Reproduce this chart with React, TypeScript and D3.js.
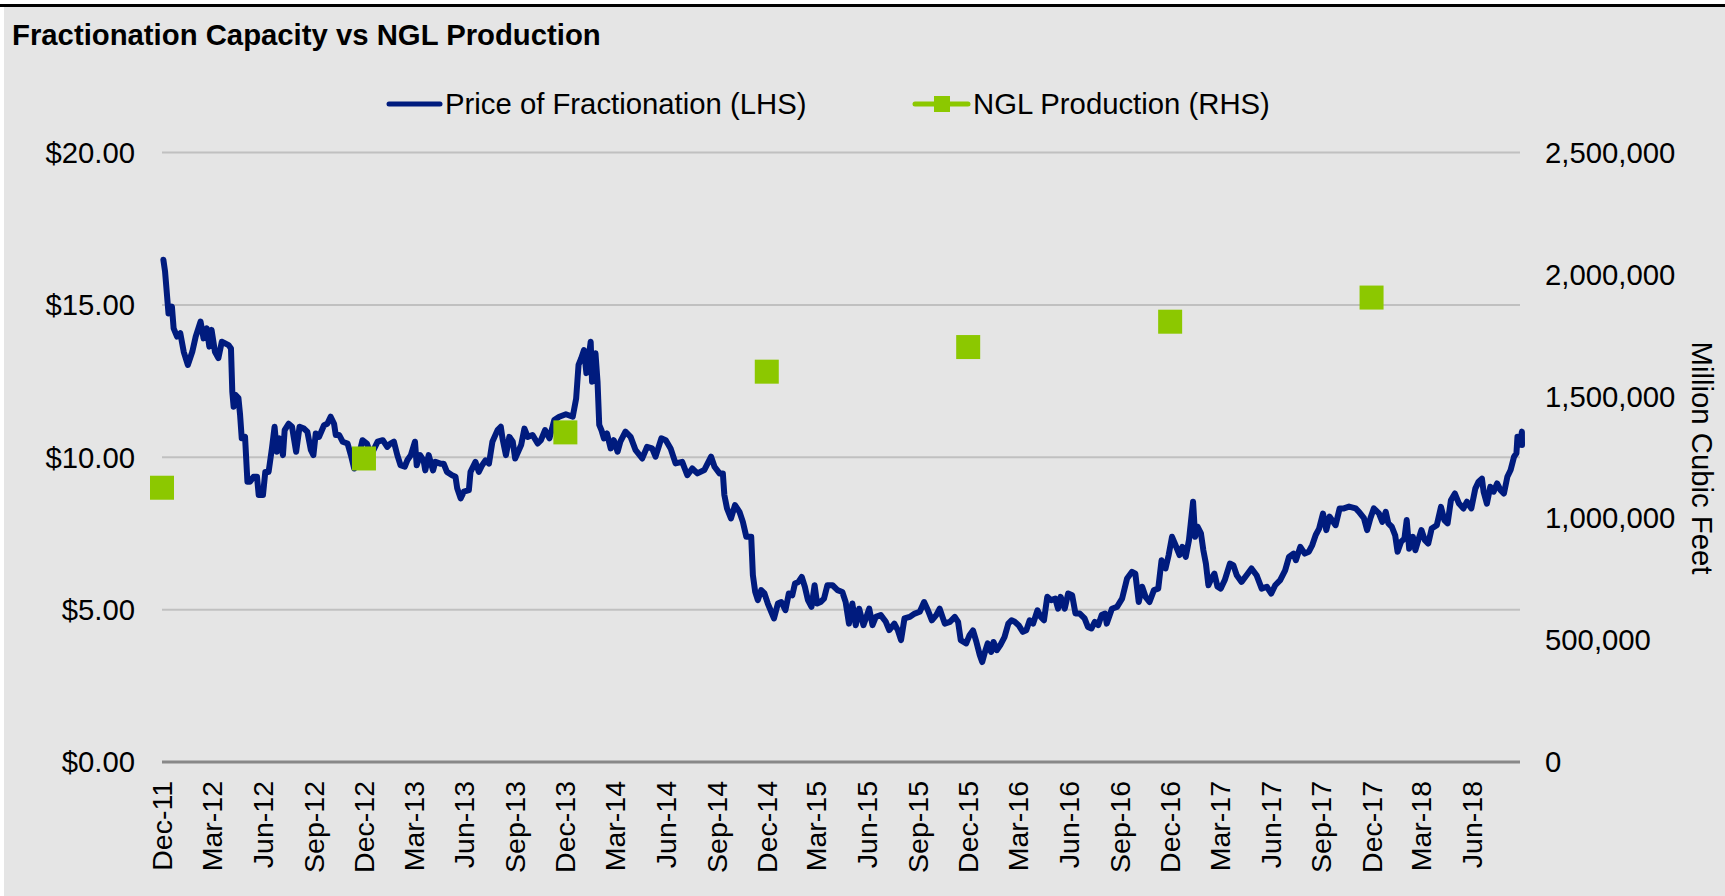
import React from 'react';
import * as d3 from 'd3';

// price of fractionation, [months after Dec-11, USD]
const priceSeries: [number, number][] = [
  [0.08, 16.48], [0.18, 16.09], [0.38, 14.72], [0.58, 14.94], [0.68, 14.23], [0.88, 13.96], [1.07, 14.07],
  [1.27, 13.46], [1.51, 13.03], [1.77, 13.46], [1.97, 13.96], [2.27, 14.45], [2.46, 13.9], [2.66, 14.23],
  [2.82, 13.63], [2.96, 14.18], [3.16, 13.46], [3.36, 13.25], [3.56, 13.79], [3.96, 13.68], [4.1, 13.57],
  [4.18, 12.15], [4.26, 11.66], [4.38, 12.04], [4.55, 11.94], [4.65, 11.39], [4.75, 10.62], [4.95, 10.67],
  [5.09, 9.2], [5.25, 9.2], [5.45, 9.36], [5.65, 9.36], [5.75, 8.76], [6.0, 8.76], [6.14, 9.52], [6.34, 9.52],
  [6.54, 10.29], [6.7, 11.0], [6.84, 10.18], [7.0, 10.62], [7.2, 10.07], [7.3, 10.89], [7.53, 11.1],
  [7.73, 11.0], [7.97, 10.18], [8.17, 11.0], [8.43, 10.94], [8.63, 10.83], [8.83, 10.24], [8.98, 10.07],
  [9.12, 10.78], [9.32, 10.67], [9.62, 11.05], [9.82, 11.1], [10.02, 11.33], [10.22, 11.1], [10.32, 10.73],
  [10.52, 10.73], [10.72, 10.51], [11.01, 10.45], [11.21, 10.07], [11.41, 9.63], [11.65, 9.96], [11.91, 10.56],
  [12.17, 10.45], [12.41, 10.07], [12.8, 10.51], [13.1, 10.56], [13.36, 10.34], [13.55, 10.45], [13.75, 10.51],
  [13.95, 10.07], [14.15, 9.74], [14.43, 9.69], [14.59, 9.9], [14.82, 10.07], [15.08, 10.51], [15.18, 9.74],
  [15.38, 10.07], [15.58, 9.9], [15.68, 9.57], [15.88, 10.07], [16.14, 9.57], [16.28, 9.85], [16.58, 9.79],
  [16.78, 9.79], [16.98, 9.52], [17.28, 9.41], [17.48, 9.36], [17.58, 8.98], [17.78, 8.65], [17.97, 8.87],
  [18.27, 8.92], [18.37, 9.52], [18.67, 9.85], [18.87, 9.52], [19.07, 9.74], [19.27, 9.9], [19.47, 9.79],
  [19.67, 10.51], [19.97, 10.89], [20.16, 11.0], [20.26, 10.62], [20.46, 10.07], [20.66, 10.67], [20.86, 10.51],
  [21.0, 9.96], [21.36, 10.4], [21.56, 10.94], [21.76, 10.67], [22.05, 10.73], [22.35, 10.45],
  [22.54, 10.56], [22.78, 10.89], [23.04, 10.62], [23.33, 11.22], [23.63, 11.33], [24.03, 11.41], [24.43, 11.33],
  [24.63, 11.93], [24.77, 13.03], [24.93, 13.25], [25.09, 13.52], [25.23, 12.76], [25.37, 13.3], [25.48, 13.79],
  [25.56, 12.48], [25.76, 13.41], [25.88, 12.48], [25.98, 11.06], [26.12, 10.89], [26.28, 10.62], [26.48, 10.78],
  [26.72, 10.29], [26.92, 10.56], [27.15, 10.18], [27.31, 10.51], [27.61, 10.84], [27.91, 10.67], [28.21, 10.23],
  [28.61, 9.96], [28.9, 10.34], [29.2, 10.29], [29.4, 10.02], [29.74, 10.62], [30.0, 10.56], [30.29, 10.29],
  [30.59, 9.8], [30.99, 9.85], [31.29, 9.41], [31.58, 9.63], [31.88, 9.47], [32.28, 9.58], [32.68, 10.02],
  [32.88, 9.69], [33.18, 9.47], [33.38, 9.47], [33.47, 8.76], [33.63, 8.32], [33.87, 7.99], [34.11, 8.43],
  [34.37, 8.21], [34.57, 7.88], [34.77, 7.39], [35.06, 7.39], [35.16, 6.13], [35.3, 5.58], [35.46, 5.31],
  [35.66, 5.64], [35.86, 5.53], [36.06, 5.2], [36.26, 4.93], [36.42, 4.71], [36.65, 5.2], [36.85, 5.25],
  [37.09, 4.98], [37.29, 5.53], [37.49, 5.47], [37.65, 5.86], [37.85, 5.91], [38.05, 6.07], [38.25, 5.75],
  [38.45, 5.31], [38.68, 5.09], [38.88, 5.8], [39.04, 5.2], [39.24, 5.25], [39.44, 5.36], [39.64, 5.8],
  [39.94, 5.8], [40.24, 5.64], [40.53, 5.58], [40.73, 5.25], [40.93, 4.54], [41.13, 5.2], [41.33, 4.49],
  [41.53, 5.03], [41.78, 4.49], [41.92, 4.71], [42.12, 5.03], [42.32, 4.49], [42.52, 4.76], [42.82, 4.82],
  [43.12, 4.6], [43.32, 4.33], [43.62, 4.54], [43.82, 4.33], [44.01, 4.0], [44.21, 4.71], [44.51, 4.76],
  [44.81, 4.87], [45.11, 4.93], [45.37, 5.25], [45.6, 4.98], [45.84, 4.65], [46.1, 4.82], [46.3, 5.03],
  [46.6, 4.54], [46.9, 4.6], [47.19, 4.76], [47.39, 4.6], [47.55, 4.0],
  [47.88, 3.89], [48.08, 4.16], [48.28, 4.32], [48.48, 3.94], [48.68, 3.5], [48.82, 3.28], [48.98, 3.61],
  [49.14, 3.89], [49.34, 3.61], [49.48, 3.94], [49.67, 3.67], [49.87, 3.83], [50.13, 4.1], [50.37, 4.54],
  [50.57, 4.65], [50.77, 4.6], [51.01, 4.49], [51.26, 4.27], [51.46, 4.32], [51.66, 4.65], [51.86, 4.54],
  [52.12, 4.98], [52.32, 4.76], [52.51, 4.65], [52.71, 5.42], [52.95, 5.31], [53.19, 5.36], [53.35, 5.03],
  [53.5, 5.42], [53.74, 5.03], [53.94, 5.53], [54.18, 5.47], [54.38, 4.87], [54.64, 4.87], [54.93, 4.71],
  [55.13, 4.43], [55.33, 4.38], [55.53, 4.6], [55.73, 4.49], [55.93, 4.82], [56.13, 4.87], [56.23, 4.54],
  [56.53, 5.03], [56.83, 5.09], [57.13, 5.36], [57.43, 6.02], [57.73, 6.24], [57.93, 6.18], [58.13, 5.25],
  [58.33, 5.75], [58.53, 5.42], [58.76, 5.25], [59.02, 5.64], [59.28, 5.69], [59.48, 6.62], [59.72, 6.35],
  [59.91, 6.79], [60.11, 7.39], [60.31, 7.12], [60.55, 6.79], [60.71, 7.06], [60.91, 6.73], [61.1, 7.28],
  [61.34, 8.54], [61.46, 7.39], [61.6, 7.72], [61.8, 7.5], [61.94, 6.95], [62.1, 6.51], [62.26, 5.8],
  [62.46, 6.02], [62.65, 6.18], [62.85, 5.75], [63.05, 5.69], [63.29, 5.97], [63.59, 6.51], [63.79, 6.46],
  [63.99, 6.13], [64.28, 5.91], [64.58, 6.13], [64.88, 6.35], [65.18, 6.13], [65.48, 5.69], [65.78, 5.75],
  [66.04, 5.53], [66.28, 5.8], [66.58, 5.97], [66.88, 6.29], [67.11, 6.73], [67.37, 6.84], [67.51, 6.62],
  [67.77, 7.06], [68.03, 6.84], [68.27, 6.9], [68.47, 7.12], [68.67, 7.45], [68.87, 7.66], [69.1, 8.15],
  [69.3, 7.61], [69.5, 8.05], [69.86, 7.77], [70.1, 8.32], [70.35, 8.32], [70.65, 8.38],
  [71.04, 8.32], [71.24, 8.21], [71.54, 8.0], [71.73, 7.61], [71.93, 8.0], [72.13, 8.32], [72.43, 8.16],
  [72.63, 7.88], [72.83, 8.21], [72.98, 7.83], [73.18, 7.72], [73.38, 7.44], [73.52, 6.9], [73.72, 7.22],
  [73.92, 7.33], [74.06, 7.94], [74.22, 7.0], [74.46, 7.39], [74.62, 6.95], [74.81, 7.28], [75.01, 7.61],
  [75.21, 7.28], [75.41, 7.17], [75.61, 7.66], [75.91, 7.77], [76.16, 8.37], [76.36, 7.94], [76.56, 7.83],
  [76.76, 8.59], [77.0, 8.81], [77.24, 8.48], [77.5, 8.32], [77.7, 8.54], [77.96, 8.32], [78.2, 8.97],
  [78.4, 9.2], [78.6, 9.3], [78.7, 8.87], [78.9, 8.48], [79.1, 9.03], [79.3, 8.87], [79.5, 9.14],
  [79.7, 8.92], [79.9, 8.81], [80.1, 9.36], [80.29, 9.58], [80.49, 10.02], [80.63, 10.13], [80.69, 10.67],
  [80.83, 10.45], [80.95, 10.84], [81.0, 10.4],
];

// NGL production, million cubic feet
const productionDates = ['Dec-11', 'Dec-12', 'Dec-13', 'Dec-14', 'Dec-15', 'Dec-16', 'Dec-17'];
const productionValues = [1125000, 1245000, 1352000, 1601000, 1702000, 1806000, 1905000];

const xTickLabels = [
  'Dec-11', 'Mar-12', 'Jun-12', 'Sep-12', 'Dec-12', 'Mar-13', 'Jun-13', 'Sep-13', 'Dec-13',
  'Mar-14', 'Jun-14', 'Sep-14', 'Dec-14', 'Mar-15', 'Jun-15', 'Sep-15', 'Dec-15', 'Mar-16',
  'Jun-16', 'Sep-16', 'Dec-16', 'Mar-17', 'Jun-17', 'Sep-17', 'Dec-17', 'Mar-18', 'Jun-18',
];
const leftTicks = [0, 5, 10, 15, 20];
const rightTicks = [0, 500000, 1000000, 1500000, 2000000, 2500000];

const FONT = '"Liberation Sans", Arial, sans-serif';
const NAVY = '#001b7e';
const GREEN = '#8cc800';
const FS = 29.3;

const parseMonth = d3.timeParse('%b-%y');
const start = new Date(2011, 11, 1);
const monthsToDate = (m: number) => {
  const base = d3.timeMonth.offset(start, Math.floor(m));
  const next = d3.timeMonth.offset(base, 1);
  return new Date(+base + (m - Math.floor(m)) * (+next - +base));
};

export default function App() {
  const left = 162, right = 1520, top = 152.5, bottom = 762;

  const x = d3.scaleTime().domain([start, new Date(2018, 7, 27)]).range([left, right]);
  const yL = d3.scaleLinear().domain([0, 20]).range([bottom, top]);
  const yR = d3.scaleLinear().domain([0, 2500000]).range([bottom, top]);

  const line = d3.line<[number, number]>()
    .x(d => Math.min(right + 2, x(monthsToDate(d[0]))))
    .y(d => yL(d[1]));

  const fmtRight = d3.format(',');
  const sq = 24;

  return (
    <div style={{ position: 'absolute', left: 0, top: 0 }}>
      <svg width={1725} height={896} style={{ display: 'block', fontFamily: FONT }}>
        <rect x={0} y={0} width={1725} height={896} fill="#ffffff" />
        <rect x={4} y={7} width={1721} height={889} fill="#e5e5e5" />
        <rect x={0} y={4} width={1725} height={3} fill="#000000" />

        <text x={12} y={45} fontSize={FS} fontWeight="bold" fill="#000">
          Fractionation Capacity vs NGL Production
        </text>

        {/* legend */}
        <line x1={389} x2={440} y1={104} y2={104} stroke={NAVY} strokeWidth={5} strokeLinecap="round" />
        <text x={445} y={104} dy="0.35em" fontSize={FS} fill="#000">Price of Fractionation (LHS)</text>
        <line x1={915} x2={968} y1={104} y2={104} stroke={GREEN} strokeWidth={5} strokeLinecap="round" />
        <rect x={934} y={96} width={16} height={16} fill={GREEN} />
        <text x={973} y={104} dy="0.35em" fontSize={FS} fill="#000">NGL Production (RHS)</text>

        {/* gridlines */}
        {leftTicks.filter(t => t > 0).map(t => (
          <line key={t} x1={left} x2={right} y1={yL(t)} y2={yL(t)} stroke="#c0c0c0" strokeWidth={2} />
        ))}

        {/* left axis labels */}
        {leftTicks.map(t => (
          <text key={t} x={135} y={yL(t)} dy="0.35em" textAnchor="end" fontSize={FS} fill="#000">
            {'$' + t.toFixed(2)}
          </text>
        ))}

        {/* right axis labels */}
        {rightTicks.map(t => (
          <text key={t} x={1545} y={yR(t)} dy="0.35em" textAnchor="start" fontSize={FS} fill="#000">
            {fmtRight(t)}
          </text>
        ))}
        <text
          transform="translate(1702,458) rotate(90)"
          textAnchor="middle"
          dy="0.35em"
          fontSize={FS}
          fill="#000"
        >
          Million Cubic Feet
        </text>

        {/* x axis */}
        <line x1={left} x2={right} y1={bottom} y2={bottom} stroke="#888888" strokeWidth={3} />
        {xTickLabels.map(lbl => {
          const px = x(parseMonth(lbl) as Date);
          return (
            <text
              key={lbl}
              transform={`translate(${px},781) rotate(-90)`}
              textAnchor="end"
              dy="0.35em"
              fontSize={28.5}
              fill="#000"
            >
              {lbl}
            </text>
          );
        })}

        {/* price line */}
        <path
          d={line(priceSeries) || ''}
          fill="none"
          stroke={NAVY}
          strokeWidth={6}
          strokeLinejoin="round"
          strokeLinecap="round"
        />

        {/* production markers */}
        {productionDates.map((lbl, i) => (
          <rect
            key={lbl}
            x={x(parseMonth(lbl) as Date) - sq / 2}
            y={yR(productionValues[i]) - sq / 2}
            width={sq}
            height={sq}
            fill={GREEN}
          />
        ))}
      </svg>
    </div>
  );
}
